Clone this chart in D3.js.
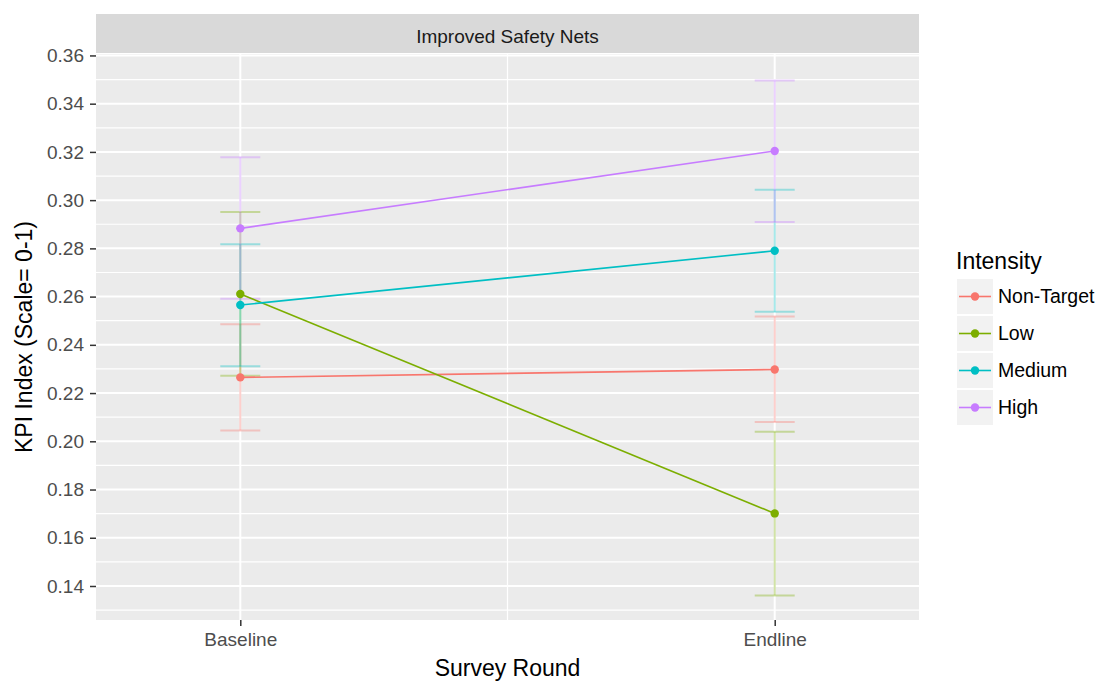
<!DOCTYPE html>
<html>
<head>
<meta charset="utf-8">
<script src="https://cdn.jsdelivr.net/npm/d3@7"></script>
<style>
  html, body { margin: 0; padding: 0; background: #ffffff; }
  svg { display: block; font-family: "Liberation Sans", Arial, sans-serif; }
</style>
</head>
<body>
<svg id="chart" width="1100" height="682"></svg>
<script>
// Survey rounds on the x axis
const rounds = ["Baseline", "Endline"];
// Intensity groups and their colours
const groups = ["Non-Target", "Low", "Medium", "High"];
const groupColors = ["#F8766D", "#7CAE00", "#00BFC4", "#C77CFF"];

// Mean KPI index per group, per round
const meanNonTarget = [0.2265, 0.2298];
const meanLow       = [0.2611, 0.1701];
const meanMedium    = [0.2565, 0.2790];
const meanHigh      = [0.2883, 0.3204];

// Confidence interval bounds per group, per round
const lowerNonTarget = [0.2045, 0.2080];
const upperNonTarget = [0.2485, 0.2518];
const lowerLow       = [0.2272, 0.1361];
const upperLow       = [0.2951, 0.2040];
const lowerMedium    = [0.2311, 0.2537];
const upperMedium    = [0.2817, 0.3043];
const lowerHigh      = [0.2591, 0.2909];
const upperHigh      = [0.3178, 0.3496];

// Y axis tick values
const yTicks = [0.14, 0.16, 0.18, 0.20, 0.22, 0.24, 0.26, 0.28, 0.30, 0.32, 0.34, 0.36];
const yMinor = [0.13, 0.15, 0.17, 0.19, 0.21, 0.23, 0.25, 0.27, 0.29, 0.31, 0.33, 0.35];

const facetTitle = "Improved Safety Nets";
const xTitle = "Survey Round";
const yTitle = "KPI Index (Scale= 0-1)";
const legendTitle = "Intensity";

const series = [
  { name: groups[0], color: groupColors[0], mean: meanNonTarget, lo: lowerNonTarget, hi: upperNonTarget },
  { name: groups[1], color: groupColors[1], mean: meanLow,       lo: lowerLow,       hi: upperLow },
  { name: groups[2], color: groupColors[2], mean: meanMedium,    lo: lowerMedium,    hi: upperMedium },
  { name: groups[3], color: groupColors[3], mean: meanHigh,      lo: lowerHigh,      hi: upperHigh }
];

const svg = d3.select("#chart");
const panel = { left: 96, right: 919, top: 54, bottom: 620 };
const strip = { top: 14, bottom: 53 };

const x = d3.scalePoint().domain(rounds).range([panel.left, panel.right]).padding(0.27);
const y = d3.scaleLinear().domain([0.1259, 0.3606]).range([panel.bottom, panel.top]);

// Facet strip
svg.append("rect")
  .attr("x", panel.left).attr("y", strip.top)
  .attr("width", panel.right - panel.left).attr("height", strip.bottom - strip.top)
  .attr("fill", "#d9d9d9");
svg.append("text")
  .attr("x", (panel.left + panel.right) / 2).attr("y", 43)
  .attr("text-anchor", "middle").attr("font-size", 19).attr("fill", "#1a1a1a")
  .text(facetTitle);

// Panel background
svg.append("rect")
  .attr("x", panel.left).attr("y", panel.top)
  .attr("width", panel.right - panel.left).attr("height", panel.bottom - panel.top)
  .attr("fill", "#ebebeb");

const grid = svg.append("g");
// Minor grid
grid.selectAll("line.ymin").data(yMinor).enter().append("line")
  .attr("x1", panel.left).attr("x2", panel.right)
  .attr("y1", d => y(d)).attr("y2", d => y(d))
  .attr("stroke", "#ffffff").attr("stroke-width", 1.2);
const xMid = (x(rounds[0]) + x(rounds[1])) / 2;
grid.append("line")
  .attr("x1", xMid).attr("x2", xMid).attr("y1", panel.top).attr("y2", panel.bottom)
  .attr("stroke", "#ffffff").attr("stroke-width", 1.2);
// Major grid
grid.selectAll("line.ymaj").data(yTicks).enter().append("line")
  .attr("x1", panel.left).attr("x2", panel.right)
  .attr("y1", d => y(d)).attr("y2", d => y(d))
  .attr("stroke", "#ffffff").attr("stroke-width", 2);
grid.selectAll("line.xmaj").data(rounds).enter().append("line")
  .attr("x1", d => x(d)).attr("x2", d => x(d))
  .attr("y1", panel.top).attr("y2", panel.bottom)
  .attr("stroke", "#ffffff").attr("stroke-width", 2);

// Error bars
const capHalf = 20;
const eb = svg.append("g");
series.forEach(s => {
  const g = eb.append("g").attr("stroke", s.color).attr("stroke-width", 2).attr("stroke-opacity", 0.35).attr("fill", "none");
  rounds.forEach((r, i) => {
    const cx = x(r);
    g.append("line").attr("x1", cx).attr("x2", cx).attr("y1", y(s.lo[i])).attr("y2", y(s.hi[i]));
    g.append("line").attr("x1", cx - capHalf).attr("x2", cx + capHalf).attr("y1", y(s.lo[i])).attr("y2", y(s.lo[i]));
    g.append("line").attr("x1", cx - capHalf).attr("x2", cx + capHalf).attr("y1", y(s.hi[i])).attr("y2", y(s.hi[i]));
  });
});

// Lines and points
const line = d3.line().x((d, i) => x(rounds[i])).y(d => y(d));
series.forEach(s => {
  svg.append("path").datum(s.mean)
    .attr("d", line).attr("fill", "none")
    .attr("stroke", s.color).attr("stroke-width", 1.6);
});
series.forEach(s => {
  svg.append("g").selectAll("circle").data(s.mean).enter().append("circle")
    .attr("cx", (d, i) => x(rounds[i])).attr("cy", d => y(d))
    .attr("r", 4.2).attr("fill", s.color);
});

// Axes
const yAxis = svg.append("g").attr("transform", `translate(${panel.left},0)`)
  .call(d3.axisLeft(y).tickValues(yTicks).tickFormat(d3.format(".2f")).tickSize(6).tickPadding(6));
const xAxis = svg.append("g").attr("transform", `translate(0,${panel.bottom})`)
  .call(d3.axisBottom(x).tickSize(6).tickPadding(7));
[yAxis, xAxis].forEach(a => {
  a.select(".domain").remove();
  a.selectAll(".tick line").attr("stroke", "#333333").attr("stroke-width", 1.5);
  a.selectAll(".tick text").attr("fill", "#4d4d4d").attr("font-size", 19)
    .attr("font-family", "'Liberation Sans', Arial, sans-serif");
});

// Axis titles
svg.append("text")
  .attr("x", (panel.left + panel.right) / 2).attr("y", 676)
  .attr("text-anchor", "middle").attr("font-size", 23).attr("fill", "#000000")
  .text(xTitle);
svg.append("text")
  .attr("transform", `translate(32,${(panel.top + panel.bottom) / 2}) rotate(-90)`)
  .attr("text-anchor", "middle").attr("font-size", 23).attr("fill", "#000000")
  .text(yTitle);

// Legend
const legend = svg.append("g");
legend.append("text").attr("x", 956).attr("y", 269)
  .attr("font-size", 23).attr("fill", "#000000").text(legendTitle);
series.forEach((s, i) => {
  const top = 279 + i * 37;
  legend.append("rect").attr("x", 957).attr("y", top).attr("width", 36).attr("height", 35).attr("fill", "#f2f2f2");
  legend.append("line").attr("x1", 959).attr("x2", 991).attr("y1", top + 17.5).attr("y2", top + 17.5)
    .attr("stroke", s.color).attr("stroke-width", 1.6);
  legend.append("circle").attr("cx", 975).attr("cy", top + 17.5).attr("r", 4.2).attr("fill", s.color);
  legend.append("text").attr("x", 998).attr("y", top + 17.5).attr("dy", "0.35em")
    .attr("font-size", 19.5).attr("fill", "#000000").text(s.name);
});
</script>
</body>
</html>
